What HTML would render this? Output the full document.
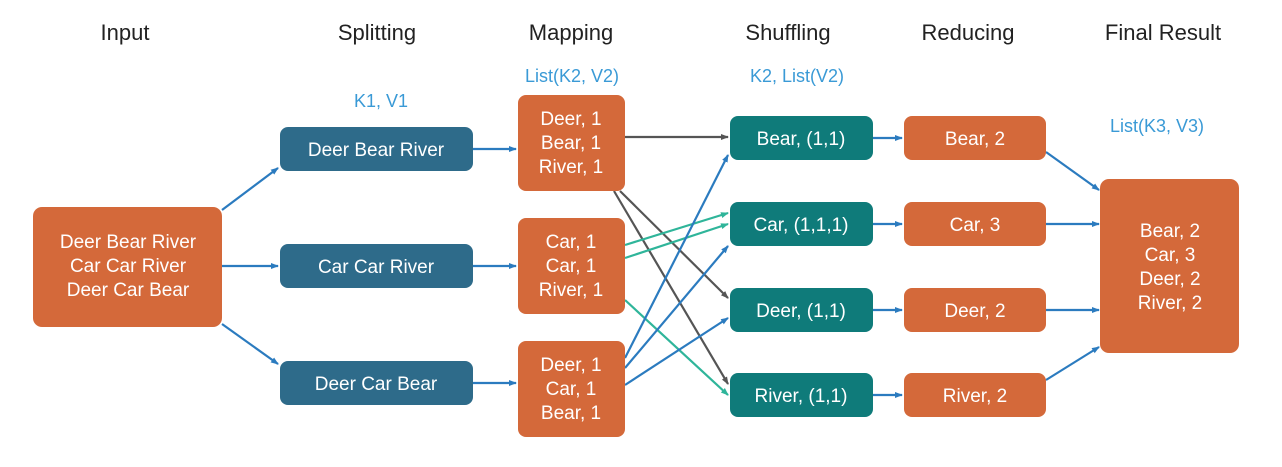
<!DOCTYPE html>
<html><head><meta charset="utf-8"><style>
body{margin:0;background:#fff;}
svg{display:block;font-family:"Liberation Sans",sans-serif;}
.h{font-size:22px;fill:#222;text-anchor:middle}
.l{font-size:18px;fill:#3a9ad6;text-anchor:middle}
.t{font-size:19px;fill:#fff;text-anchor:middle}
</style></head><body>
<svg width="1282" height="467" viewBox="0 0 1282 467">
<defs>
<marker id="ab" markerWidth="8" markerHeight="8" refX="7" refY="4" orient="auto" markerUnits="userSpaceOnUse"><path d="M0,1 L8,4 L0,7z" fill="#2b7bbf"/></marker>
<marker id="ag" markerWidth="8" markerHeight="8" refX="7" refY="4" orient="auto" markerUnits="userSpaceOnUse"><path d="M0,1 L8,4 L0,7z" fill="#555"/></marker>
<marker id="at" markerWidth="8" markerHeight="8" refX="7" refY="4" orient="auto" markerUnits="userSpaceOnUse"><path d="M0,1 L8,4 L0,7z" fill="#2fb59a"/></marker>
</defs>
<text class="h" x="125" y="40">Input</text>
<text class="h" x="377" y="40">Splitting</text>
<text class="h" x="571" y="40">Mapping</text>
<text class="h" x="788" y="40">Shuffling</text>
<text class="h" x="968" y="40">Reducing</text>
<text class="h" x="1163" y="40">Final Result</text>
<text class="l" x="381" y="107">K1, V1</text>
<text class="l" x="572" y="82">List(K2, V2)</text>
<text class="l" x="797" y="82">K2, List(V2)</text>
<text class="l" x="1157" y="132">List(K3, V3)</text>

<g stroke-width="2.2" fill="none">
<line x1="222" y1="210" x2="278" y2="168" stroke="#2b7bbf" marker-end="url(#ab)"/>
<line x1="222" y1="266" x2="278" y2="266" stroke="#2b7bbf" marker-end="url(#ab)"/>
<line x1="222" y1="324" x2="278" y2="364" stroke="#2b7bbf" marker-end="url(#ab)"/>
<line x1="473" y1="149" x2="516" y2="149" stroke="#2b7bbf" marker-end="url(#ab)"/>
<line x1="473" y1="266" x2="516" y2="266" stroke="#2b7bbf" marker-end="url(#ab)"/>
<line x1="473" y1="383" x2="516" y2="383" stroke="#2b7bbf" marker-end="url(#ab)"/>
<line x1="625" y1="137" x2="728" y2="137" stroke="#555" marker-end="url(#ag)"/>
<line x1="620" y1="191" x2="728" y2="298" stroke="#555" marker-end="url(#ag)"/>
<line x1="614" y1="191" x2="728" y2="384" stroke="#555" marker-end="url(#ag)"/>
<line x1="625" y1="245" x2="728" y2="213" stroke="#2fb59a" marker-end="url(#at)"/>
<line x1="625" y1="258" x2="728" y2="224" stroke="#2fb59a" marker-end="url(#at)"/>
<line x1="625" y1="300" x2="728" y2="395" stroke="#2fb59a" marker-end="url(#at)"/>
<line x1="625" y1="358" x2="728" y2="155" stroke="#2b7bbf" marker-end="url(#ab)"/>
<line x1="625" y1="368" x2="728" y2="246" stroke="#2b7bbf" marker-end="url(#ab)"/>
<line x1="625" y1="385" x2="728" y2="318" stroke="#2b7bbf" marker-end="url(#ab)"/>
<line x1="873" y1="138" x2="902" y2="138" stroke="#2b7bbf" marker-end="url(#ab)"/>
<line x1="873" y1="224" x2="902" y2="224" stroke="#2b7bbf" marker-end="url(#ab)"/>
<line x1="873" y1="310" x2="902" y2="310" stroke="#2b7bbf" marker-end="url(#ab)"/>
<line x1="873" y1="395" x2="902" y2="395" stroke="#2b7bbf" marker-end="url(#ab)"/>
<line x1="1046" y1="152" x2="1099" y2="190" stroke="#2b7bbf" marker-end="url(#ab)"/>
<line x1="1046" y1="224" x2="1099" y2="224" stroke="#2b7bbf" marker-end="url(#ab)"/>
<line x1="1046" y1="310" x2="1099" y2="310" stroke="#2b7bbf" marker-end="url(#ab)"/>
<line x1="1046" y1="380" x2="1099" y2="347" stroke="#2b7bbf" marker-end="url(#ab)"/>
</g>

<g fill="#d4693a">
<rect x="33" y="207" width="189" height="120" rx="9"/>
<rect x="518" y="95" width="107" height="96" rx="8"/>
<rect x="518" y="218" width="107" height="96" rx="8"/>
<rect x="518" y="341" width="107" height="96" rx="8"/>
<rect x="904" y="116" width="142" height="44" rx="8"/>
<rect x="904" y="202" width="142" height="44" rx="8"/>
<rect x="904" y="288" width="142" height="44" rx="8"/>
<rect x="904" y="373" width="142" height="44" rx="8"/>
<rect x="1100" y="179" width="139" height="174" rx="9"/>
</g>
<g fill="#2e6b8a">
<rect x="280" y="127" width="193" height="44" rx="8"/>
<rect x="280" y="244" width="193" height="44" rx="8"/>
<rect x="280" y="361" width="193" height="44" rx="8"/>
</g>
<g fill="#0f7b7a">
<rect x="730" y="116" width="143" height="44" rx="8"/>
<rect x="730" y="202" width="143" height="44" rx="8"/>
<rect x="730" y="288" width="143" height="44" rx="8"/>
<rect x="730" y="373" width="143" height="44" rx="8"/>
</g>

<text class="t" x="128" y="248">Deer Bear River</text>
<text class="t" x="128" y="272">Car Car River</text>
<text class="t" x="128" y="296">Deer Car Bear</text>
<text class="t" x="376" y="156">Deer Bear River</text>
<text class="t" x="376" y="273">Car Car River</text>
<text class="t" x="376" y="390">Deer Car Bear</text>
<text class="t" x="571" y="125">Deer, 1</text><text class="t" x="571" y="149">Bear, 1</text><text class="t" x="571" y="173">River, 1</text>
<text class="t" x="571" y="248">Car, 1</text><text class="t" x="571" y="272">Car, 1</text><text class="t" x="571" y="296">River, 1</text>
<text class="t" x="571" y="371">Deer, 1</text><text class="t" x="571" y="395">Car, 1</text><text class="t" x="571" y="419">Bear, 1</text>
<text class="t" x="801" y="145">Bear, (1,1)</text>
<text class="t" x="801" y="231">Car, (1,1,1)</text>
<text class="t" x="801" y="317">Deer, (1,1)</text>
<text class="t" x="801" y="402">River, (1,1)</text>
<text class="t" x="975" y="145">Bear, 2</text>
<text class="t" x="975" y="231">Car, 3</text>
<text class="t" x="975" y="317">Deer, 2</text>
<text class="t" x="975" y="402">River, 2</text>
<text class="t" x="1170" y="237">Bear, 2</text>
<text class="t" x="1170" y="261">Car, 3</text>
<text class="t" x="1170" y="285">Deer, 2</text>
<text class="t" x="1170" y="309">River, 2</text>
</svg>
</body></html>
